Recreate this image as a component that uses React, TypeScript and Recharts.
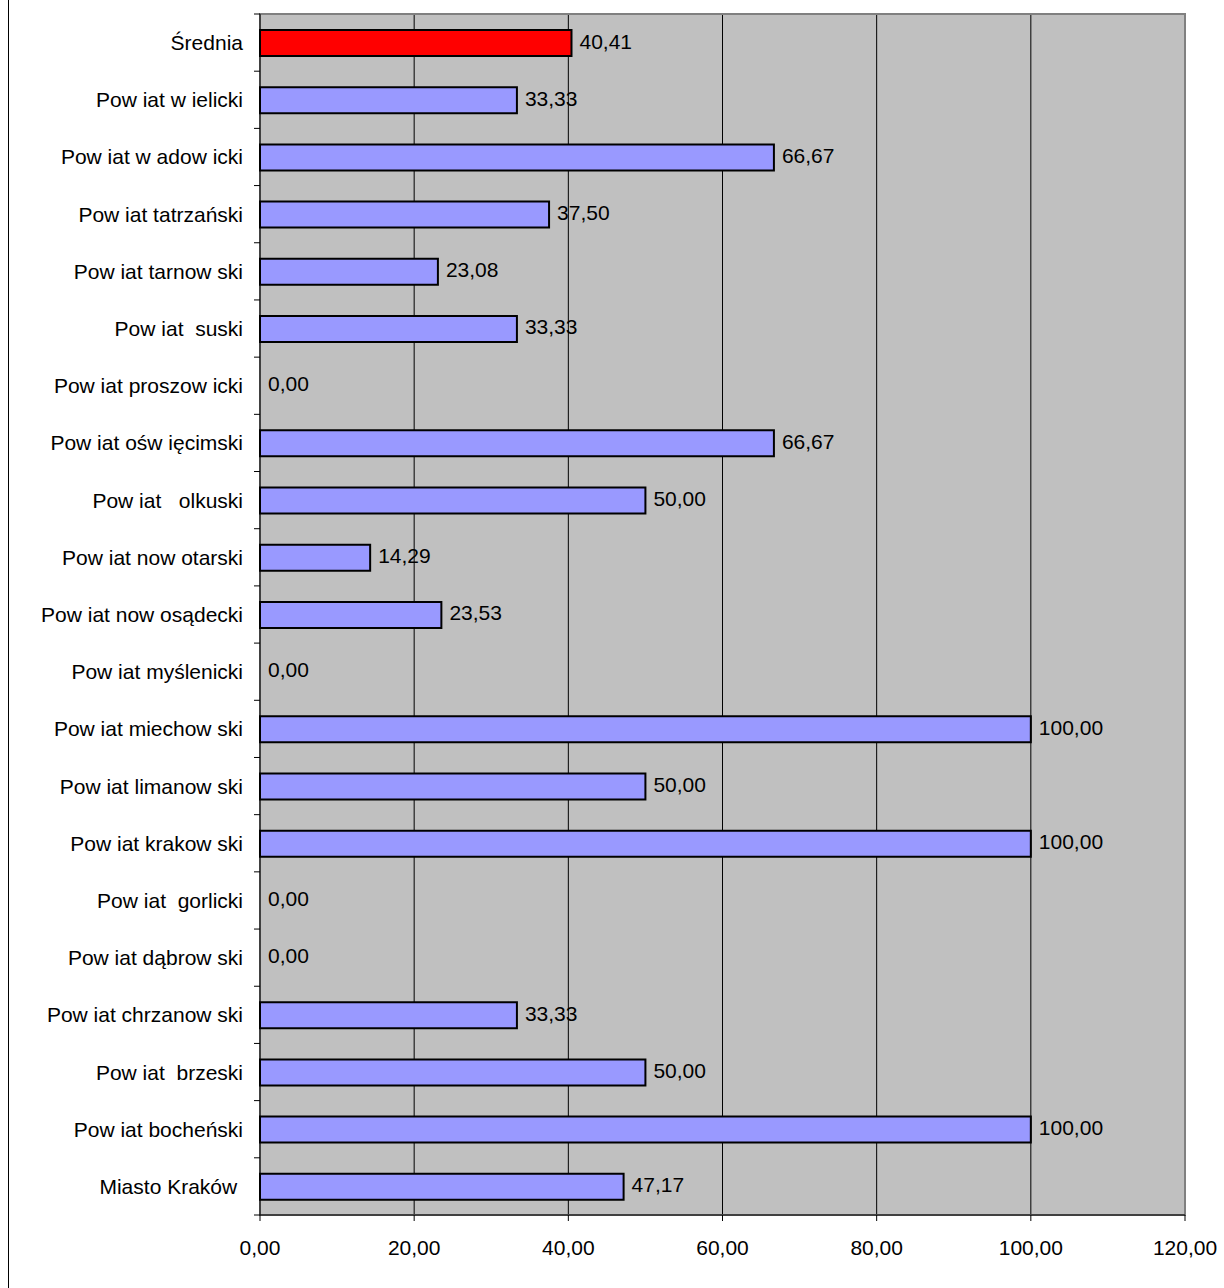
import { BarChart, Bar, XAxis, YAxis, CartesianGrid, Cell, LabelList, ReferenceLine, ReferenceArea } from "recharts";

const powiaty = [
  "Średnia",
  "Pow iat w ielicki",
  "Pow iat w adow icki",
  "Pow iat tatrzański",
  "Pow iat tarnow ski",
  "Pow iat  suski",
  "Pow iat proszow icki",
  "Pow iat ośw ięcimski",
  "Pow iat   olkuski",
  "Pow iat now otarski",
  "Pow iat now osądecki",
  "Pow iat myślenicki",
  "Pow iat miechow ski",
  "Pow iat limanow ski",
  "Pow iat krakow ski",
  "Pow iat  gorlicki",
  "Pow iat dąbrow ski",
  "Pow iat chrzanow ski",
  "Pow iat  brzeski",
  "Pow iat bocheński",
  "Miasto Kraków ",
];

const wartosci = [40.41, 33.33, 66.67, 37.5, 23.08, 33.33, 0, 66.67, 50, 14.29, 23.53, 0, 100, 50, 100, 0, 0, 33.33, 50, 100, 47.17];

const xTicks = [0, 20, 40, 60, 80, 100, 120];

const data = powiaty.map((name, i) => ({ name, value: wartosci[i] }));

const W = 1224;
const H = 1288;
const M = { top: 14, right: 39, bottom: 0, left: 0 };
const X_AXIS_H = 73;
const PLOT_LEFT = 260;
const BAND = (H - M.top - X_AXIS_H) / data.length;
const FONT = "'Liberation Sans', Arial, sans-serif";
const FS = 21;

const fmt = (v: number) => v.toFixed(2).replace(".", ",");

function CategoryTick(props: any) {
  const { y, payload, index } = props;
  const v = data[index]?.value;
  return (
    <g>
      <line x1={PLOT_LEFT - 6} x2={PLOT_LEFT} y1={y - BAND / 2} y2={y - BAND / 2} stroke="#000" />
      {index === data.length - 1 && (
        <line x1={PLOT_LEFT - 6} x2={PLOT_LEFT} y1={y + BAND / 2} y2={y + BAND / 2} stroke="#000" />
      )}
      <text
        x={PLOT_LEFT - 17}
        y={y}
        textAnchor="end"
        dominantBaseline="central"
        fontSize={FS}
        fontFamily={FONT}
        fill="#000"
        style={{ whiteSpace: "pre" }}
      >
        {payload.value}
      </text>
      {/* zero-length bars are not drawn by recharts, so their label goes here */}
      {v === 0 && (
        <text x={PLOT_LEFT + 8} y={y - 2} dominantBaseline="central" fontSize={FS} fontFamily={FONT} fill="#000">
          {fmt(v)}
        </text>
      )}
    </g>
  );
}

function ValueLabel(props: any) {
  const { x, y, width, height, value } = props;
  return (
    <text
      x={Number(x) + Number(width || 0) + 8}
      y={Number(y) + Number(height) / 2 - 2}
      dominantBaseline="central"
      fontSize={FS}
      fontFamily={FONT}
      fill="#000"
    >
      {fmt(Number(value))}
    </text>
  );
}

export default function App() {
  return (
    <div style={{ position: "absolute", left: 0, top: 0, width: W, height: H, background: "#fff" }}>
      <div style={{ position: "absolute", left: 8, top: 0, width: 1, height: H, background: "#000" }} />
      <BarChart width={W} height={H} data={data} layout="vertical" margin={M} barCategoryGap={0}>
        <CartesianGrid horizontal={false} stroke="#000" fill="#C0C0C0" fillOpacity={1} />
        <ReferenceArea x1={0} x2={120} fill="none" stroke="#808080" strokeWidth={2} />
        <ReferenceLine x={120} stroke="#808080" strokeWidth={2} />
        <XAxis
          type="number"
          domain={[0, 120]}
          ticks={xTicks}
          tickFormatter={fmt}
          stroke="#000"
          height={X_AXIS_H}
          tickSize={6}
          tickMargin={19}
          tick={{ fill: "#000", fontSize: FS, fontFamily: FONT }}
        />
        <YAxis
          type="category"
          dataKey="name"
          width={PLOT_LEFT}
          stroke="#000"
          tickLine={false}
          tick={<CategoryTick />}
          interval={0}
        />
        <Bar dataKey="value" barSize={26} stroke="#000" strokeWidth={2} isAnimationActive={false}>
          {data.map((d, i) => (
            <Cell key={i} fill={i === 0 ? "#FF0000" : "#9999FF"} />
          ))}
          <LabelList dataKey="value" content={<ValueLabel />} />
        </Bar>
      </BarChart>
    </div>
  );
}
